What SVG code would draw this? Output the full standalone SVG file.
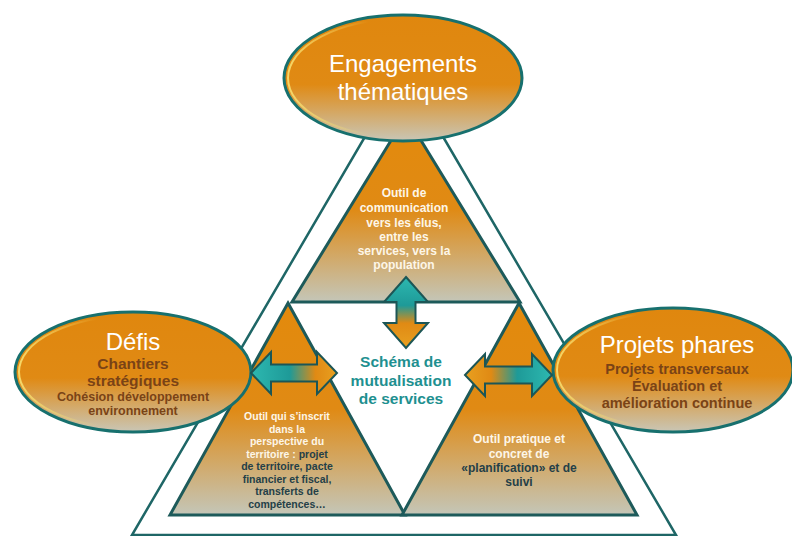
<svg xmlns="http://www.w3.org/2000/svg" width="792" height="536" viewBox="0 0 792 536">
<defs>
<linearGradient id="gTri" x1="0" y1="0" x2="0" y2="1">
<stop offset="0" stop-color="#E38A0C"/>
<stop offset="0.5" stop-color="#E08A14"/>
<stop offset="1" stop-color="#C4C6B8"/>
</linearGradient>
<linearGradient id="gEll" x1="0" y1="0" x2="0" y2="1">
<stop offset="0" stop-color="#E0870E"/>
<stop offset="0.55" stop-color="#E08A14"/>
<stop offset="1" stop-color="#C9C6B6"/>
</linearGradient>
<linearGradient id="gHi" x1="0" y1="0" x2="1" y2="0">
<stop offset="0" stop-color="#F8E070" stop-opacity="0.9"/>
<stop offset="0.35" stop-color="#F8E070" stop-opacity="0"/>
</linearGradient>
<linearGradient id="gArrL" x1="0" y1="0" x2="1" y2="0">
<stop offset="0" stop-color="#2DB8B0"/>
<stop offset="0.45" stop-color="#1E9A98"/>
<stop offset="0.75" stop-color="#E08A14"/>
<stop offset="1" stop-color="#E8A020"/>
</linearGradient>
<linearGradient id="gArrR" x1="0" y1="0" x2="1" y2="0">
<stop offset="0" stop-color="#E8A020"/>
<stop offset="0.3" stop-color="#E08A14"/>
<stop offset="0.6" stop-color="#1E9A98"/>
<stop offset="1" stop-color="#2DB8B0"/>
</linearGradient>
<linearGradient id="gArrV" x1="0" y1="0" x2="0" y2="1">
<stop offset="0" stop-color="#2DB8B0"/>
<stop offset="0.4" stop-color="#1E9A98"/>
<stop offset="0.65" stop-color="#E08A14"/>
<stop offset="1" stop-color="#E8A020"/>
</linearGradient>
<style>
.frame{fill:none;stroke:#1E6666;stroke-width:2.5}
.tri{fill:url(#gTri);stroke:#1D5A5A;stroke-width:3;stroke-linejoin:miter}
.ell{fill:url(#gEll);stroke:#17706E;stroke-width:3}
.hi{fill:none;stroke:url(#gHi);stroke-width:2}
.arr{stroke:#1C5656;stroke-width:2;stroke-linejoin:miter}
.t{font-family:"Liberation Sans",Arial,sans-serif;text-anchor:middle}
.big{font-size:24px;fill:#FFFFFF}
.b{font-weight:bold}
.w{fill:#FDF6E8}
.br{fill:#7A4316}
.dk{fill:#243F48}
.teal{fill:#1E9090}
</style>
</defs>
<rect width="792" height="536" fill="#FFFFFF"/>

<g id="frame">
<polygon class="frame" points="404,70 676,535 132,535"/>
</g>

<g id="tri-top">
<polygon class="tri" points="406,116 520,302 292,302"/>
<text class="t b w" font-size="12"><tspan x="404" y="197">Outil de</tspan><tspan x="404" y="212">communication</tspan><tspan x="404" y="227">vers les élus,</tspan><tspan x="404" y="241">entre les</tspan><tspan x="404" y="255">services, vers la</tspan><tspan x="404" y="269">population</tspan></text>
</g>

<g id="tri-left">
<polygon class="tri" points="288,303 405,515 170,515"/>
<text class="t b" font-size="10.5"><tspan class="w" x="287" y="420">Outil qui s’inscrit</tspan><tspan class="w" x="287" y="433">dans la</tspan><tspan class="w" x="287" y="445">perspective  du</tspan><tspan x="287" y="458"><tspan class="w">territoire :</tspan><tspan class="dk"> projet</tspan></tspan><tspan class="dk" x="287" y="470">de territoire, pacte</tspan><tspan class="dk" x="287" y="483">financier  et fiscal,</tspan><tspan class="dk" x="287" y="495">transferts de</tspan><tspan class="dk" x="287" y="508">compétences…</tspan></text>
</g>

<g id="tri-right">
<polygon class="tri" points="519,303 637,515 402,515"/>
<text class="t b" font-size="12"><tspan class="w" x="519" y="443">Outil pratique et</tspan><tspan class="w" x="519" y="458">concret de</tspan><tspan class="dk" x="519" y="472">«planification» et de</tspan><tspan class="dk" x="519" y="486">suivi</tspan></text>
</g>

<g id="ell-top">
<ellipse class="ell" cx="403" cy="78" rx="119" ry="63"/>
<ellipse class="hi" cx="403" cy="78" rx="115" ry="59"/>
<text class="t big"><tspan x="403" y="72">Engagements</tspan><tspan x="403" y="100">thématiques</tspan></text>
</g>

<g id="ell-left">
<ellipse class="ell" cx="133" cy="372" rx="118" ry="60"/>
<ellipse class="hi" cx="133" cy="372" rx="114" ry="56"/>
<text class="t big" x="133" y="350">Défis</text>
<text class="t b br" font-size="15.5"><tspan x="133" y="369">Chantiers</tspan><tspan x="133" y="386">stratégiques</tspan></text>
<text class="t b br" font-size="12.5"><tspan x="133" y="401">Cohésion développement</tspan><tspan x="133" y="415">environnement</tspan></text>
</g>

<g id="ell-right">
<ellipse class="ell" cx="673" cy="370" rx="120" ry="62"/>
<ellipse class="hi" cx="673" cy="370" rx="116" ry="58"/>
<text class="t big" x="677" y="353">Projets phares</text>
<text class="t b br" font-size="14.5"><tspan x="677" y="374">Projets transversaux</tspan><tspan x="677" y="391">Évaluation et</tspan><tspan x="677" y="408">amélioration continue</tspan></text>
</g>

<g id="center">
<text class="t b teal" font-size="15.5"><tspan x="401" y="367">Schéma de</tspan><tspan x="401" y="386">mutualisation</tspan><tspan x="401" y="404">de services</tspan></text>
</g>

<g id="connectors">
<path class="arr" fill="url(#gArrV)" d="M406,277 L428,302 L415.5,302 L415.5,323 L428,323 L406,348 L384,323 L396.5,323 L396.5,302 L384,302 Z"/>
<path class="arr" fill="url(#gArrL)" d="M251,373 L271,352 L271,364.5 L317,364.5 L317,352 L337,373 L317,394 L317,381.5 L271,381.5 L271,394 Z"/>
<path class="arr" fill="url(#gArrR)" d="M465,375 L485,354 L485,366.5 L532,366.5 L532,354 L552,375 L532,396 L532,383.5 L485,383.5 L485,396 Z"/>
</g>
</svg>
